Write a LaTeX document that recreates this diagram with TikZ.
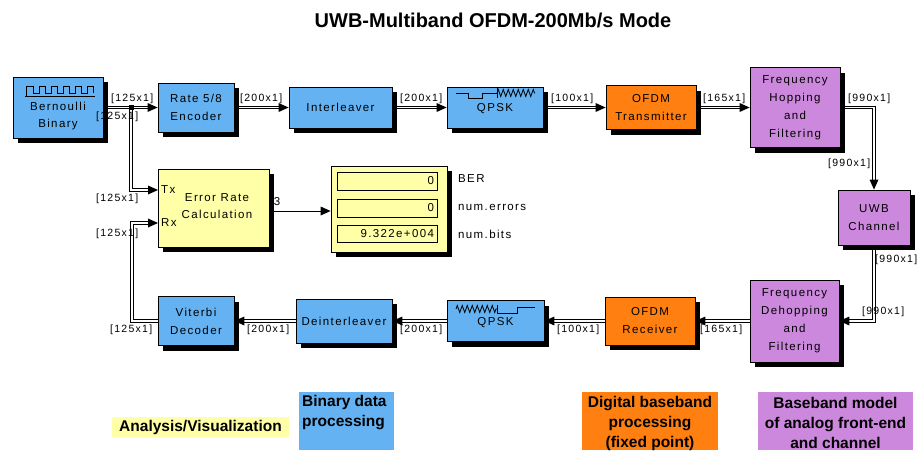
\documentclass[tikz,border=0pt]{standalone}
\usepackage{fontspec}
\setmainfont{Liberation Sans}
\newfontfamily\blkfont[LetterSpace=12]{Liberation Sans}
\usetikzlibrary{calc,decorations.pathmorphing}

\definecolor{binblue}{RGB}{100,178,242}
\definecolor{dsporange}{RGB}{255,128,16}
\definecolor{rfviolet}{RGB}{204,136,220}
\definecolor{anayellow}{RGB}{255,255,168}

% block with a hard black shadow offset 5pt right and down
% #1 name, #2 style, #3 x, #4 y, #5 width, #6 height, #7 text
\newcommand\sblock[7]{%
  \node[fill=black, draw=none, inner sep=0pt, minimum width=#5pt, minimum height=#6pt]
    (#1sh) at ({#3+5},{#4+5}) {};
  \node[#2, minimum width=#5pt, minimum height=#6pt] (#1) at (#3,#4) {#7};}

\begin{document}
\begin{tikzpicture}[x=1pt,y=-1pt,
  blk/.style={draw=black, line width=0.8pt, rectangle, inner sep=0pt, align=center,
    font=\blkfont\fontsize{11.5}{18}\selectfont},
  binblk/.style={blk, fill=binblue},
  dspblk/.style={blk, fill=dsporange},
  rfblk/.style={blk, fill=rfviolet},
  anablk/.style={blk, fill=anayellow},
  blktxt/.style={inner sep=0pt, align=center, font=\blkfont\fontsize{11.5}{17}\selectfont},
  field/.style={draw=black, line width=0.8pt, fill=anayellow, inner xsep=3pt, inner ysep=0pt,
    text width=94pt, align=right, minimum height=18pt,
    font=\blkfont\fontsize{11.5}{13}\selectfont},
  sig/.style={inner sep=0pt, anchor=west, font=\blkfont\fontsize{10.5}{12}\selectfont},
  rail/.style={draw=black, line width=0.8pt},
  tip/.style={fill=black},
  icon/.style={line width=0.8pt},
  legtxt/.style={inner sep=0pt, font=\bfseries\fontsize{15.5}{20}\selectfont},
]
\useasboundingbox (0,0) rectangle (917,450);

% title
\node[font=\bfseries\fontsize{20}{24}\selectfont] (title) at (493,20) {UWB-Multiband OFDM-200Mb/s Mode};

% transmitter chain
\sblock{bern}{binblk}{58}{107.5}{90}{61}{}
\node[blktxt] (berntxt) at (58,116) {Bernoulli\\Binary};
\draw[icon] (25,96) -- (95,96);
\draw[icon] (26,96) -- (26,86.5) -- (33,86.5)
  \foreach \k in {0,...,4} { -- ++(0,6.5) -- ++(6,0) -- ++(0,-6.5) -- ++(6,0) } -- ++(0,6.5);

\sblock{enc}{binblk}{196}{107.5}{76}{49}{Rate 5/8\\Encoder}
\sblock{intl}{binblk}{340.5}{107.5}{103}{41}{Interleaver}
\sblock{qpsk1}{binblk}{495}{107.5}{96}{41}{}
\node[blktxt] (qpsk1txt) at (495,109) {QPSK};
\draw[icon] (456,93) -- (468,93) -- (468,98) -- (482,98) -- (482,93) -- (497,93);
\draw[icon] (497,88) -- (497,98);
\draw[icon, decorate, decoration={zigzag, segment length=5pt, amplitude=3.5pt}] (497,93) -- (535,93);
\sblock{ofdmtx}{dspblk}{651}{107.5}{90}{44}{OFDM\\Transmitter}
\sblock{fhop}{rfblk}{795}{107.5}{90}{80}{Frequency\\Hopping\\and\\Filtering}
\sblock{chan}{rfblk}{874}{217.5}{72}{55}{UWB\\Channel}

% receiver chain
\sblock{fdehop}{rfblk}{794.5}{321}{89}{82}{Frequency\\Dehopping\\and\\Filtering}
\sblock{ofdmrx}{dspblk}{650}{321}{90}{48}{OFDM\\Receiver}
\sblock{qpsk2}{binblk}{495.5}{321}{97}{41}{}
\node[blktxt] (qpsk2txt) at (495.5,323) {QPSK};
\draw[icon, decorate, decoration={zigzag, segment length=5pt, amplitude=3.5pt}] (456,309) -- (497,309);
\draw[icon] (497,305) -- (497,314);
\draw[icon] (497,313) -- (517,313) -- (517,307) -- (535,307);
\sblock{deint}{binblk}{344}{321}{96}{44}{Deinterleaver}
\sblock{vit}{binblk}{196}{321}{76}{49}{Viterbi\\Decoder}

% error rate and display
\sblock{erc}{anablk}{213.5}{208}{111}{78}{}
\node[blktxt] (erctxt) at (217,206.5) {Error Rate\\Calculation};
\node[blktxt, anchor=west] (txlbl) at (161,190) {Tx};
\node[blktxt, anchor=west] (rxlbl) at (161,223) {Rx};
\node[blktxt] (nout) at (277,202) {3};

\sblock{disp}{anablk}{389}{209}{116}{86}{}
\node[field] (fber) at (387,181) {0};
\node[field] (ferr) at (387,208) {0};
\node[field, minimum height=17pt] (fbits) at (387,233.5) {9.322e+004};
\node[blktxt, anchor=west] (lber) at (458,179) {BER};
\node[blktxt, anchor=west] (lerr) at (458,207) {num.errors};
\node[blktxt, anchor=west] (lbits) at (458,234) {num.bits};

% signal dimension labels
\node[sig] (d1) at (111,99) {[125x1]};
\node[sig] (d2) at (96,117) {[125x1]};
\node[sig] (d3) at (96,199) {[125x1]};
\node[sig] (d4) at (96,234) {[125x1]};
\node[sig] (d5) at (110,330) {[125x1]};
\node[sig] (d6) at (240,99) {[200x1]};
\node[sig] (d7) at (400,99) {[200x1]};
\node[sig] (d8) at (551,99) {[100x1]};
\node[sig] (d9) at (703,99) {[165x1]};
\node[sig] (d10) at (848,99) {[990x1]};
\node[sig] (d11) at (828,164) {[990x1]};
\node[sig] (d12) at (875,260) {[990x1]};
\node[sig] (d13) at (862,312) {[990x1]};
\node[sig] (d14) at (700,330) {[165x1]};
\node[sig] (d15) at (557,330) {[100x1]};
\node[sig] (d16) at (400,330) {[200x1]};
\node[sig] (d17) at (247,330) {[200x1]};

% connection points
\coordinate (j) at (131,107.5);
\coordinate (tx) at (158,190);
\coordinate (rx) at (158,223);
\coordinate (vbend) at (132,321);

% vector signals are drawn as two parallel rails ending in a filled tip
% forward chain, left to right
\foreach \a/\b in {bern/enc, enc/intl, intl/qpsk1, qpsk1/ofdmtx, ofdmtx/fhop} {
  \draw[rail] ($(\a.east)+(5,-1.2)$) -- ($(\b.west)+(-10,-1.2)$);
  \draw[rail] ($(\a.east)+(5,1.2)$) -- ($(\b.west)+(-10,1.2)$);
  \fill[tip] (\b.west) -- ++(-10,-4.5) -- ++(0,9) -- cycle;
}
% return chain, right to left
\foreach \a/\b in {fdehop/ofdmrx, ofdmrx/qpsk2, qpsk2/deint, deint/vit} {
  \draw[rail] ($(\a.west)+(0,-1.2)$) -- ($(\b.east)+(10,-1.2)$);
  \draw[rail] ($(\a.west)+(0,1.2)$) -- ($(\b.east)+(10,1.2)$);
  \fill[tip] (\b.east) -- ++(10,-4.5) -- ++(0,9) -- cycle;
}
% hopping filter down to the channel
\draw[rail] ($(fhop.east)+(5,-1.2)$) -| ($(chan.north)+(1.2,-10)$);
\draw[rail] ($(fhop.east)+(5,1.2)$) -| ($(chan.north)+(-1.2,-10)$);
\fill[tip] (chan.north) -- ++(-4.5,-10) -- ++(9,0) -- cycle;
% channel down to the dehopping filter
\draw[rail] ($(chan.south)+(1.2,5)$) |- ($(fdehop.east)+(10,1.2)$);
\draw[rail] ($(chan.south)+(-1.2,5)$) |- ($(fdehop.east)+(10,-1.2)$);
\fill[tip] (fdehop.east) -- ++(10,-4.5) -- ++(0,9) -- cycle;
% transmitted bits to the Tx port
\draw[rail] ($(j)+(-1.2,0)$) |- ($(tx)+(-10,1.2)$);
\draw[rail] ($(j)+(1.2,0)$) |- ($(tx)+(-10,-1.2)$);
\fill[tip] (tx) -- ++(-10,-4.5) -- ++(0,9) -- cycle;
\fill[black] ($(j)+(-2.5,-2.5)$) rectangle ($(j)+(2.5,2.5)$);
% decoded bits back to the Rx port
\draw[rail] ($(vit.west)+(0,1.2)$) -- ($(vbend)+(-1.2,1.2)$)
  -- ($(vbend |- rx)+(-1.2,-1.2)$) -- ($(rx)+(-10,-1.2)$);
\draw[rail] ($(vit.west)+(0,-1.2)$) -- ($(vbend)+(1.2,-1.2)$)
  -- ($(vbend |- rx)+(1.2,1.2)$) -- ($(rx)+(-10,1.2)$);
\fill[tip] (rx) -- ++(-10,-4.5) -- ++(0,9) -- cycle;
% scalar statistics output
\coordinate (ercout) at (erc.east |- 0,211);
\coordinate (dispin) at (disp.west |- 0,211);
\draw[rail] ($(ercout)+(5,0)$) -- ($(dispin)+(-10,0)$);
\fill[tip] (dispin) -- ++(-10,-4.5) -- ++(0,9) -- cycle;

% legend
\node[fill=anayellow, inner sep=0pt, minimum width=177pt, minimum height=20pt, legtxt] (lgana) at (200.5,427) {Analysis/Visualization};
\fill[binblue] (299,392) rectangle (394,450);
\node[legtxt, anchor=west, align=left] (lgbin) at (302,413) {Binary data\\processing};
\fill[dsporange] (582,392) rectangle (718,450);
\node[legtxt, align=center] (lgdsp) at (650,423) {Digital baseband\\processing\\(fixed point)};
\fill[rfviolet] (758,392) rectangle (913,450);
\node[legtxt, align=center] (lgrf) at (835.5,423) {Baseband model\\of analog front-end\\and channel};
\end{tikzpicture}
\end{document}
